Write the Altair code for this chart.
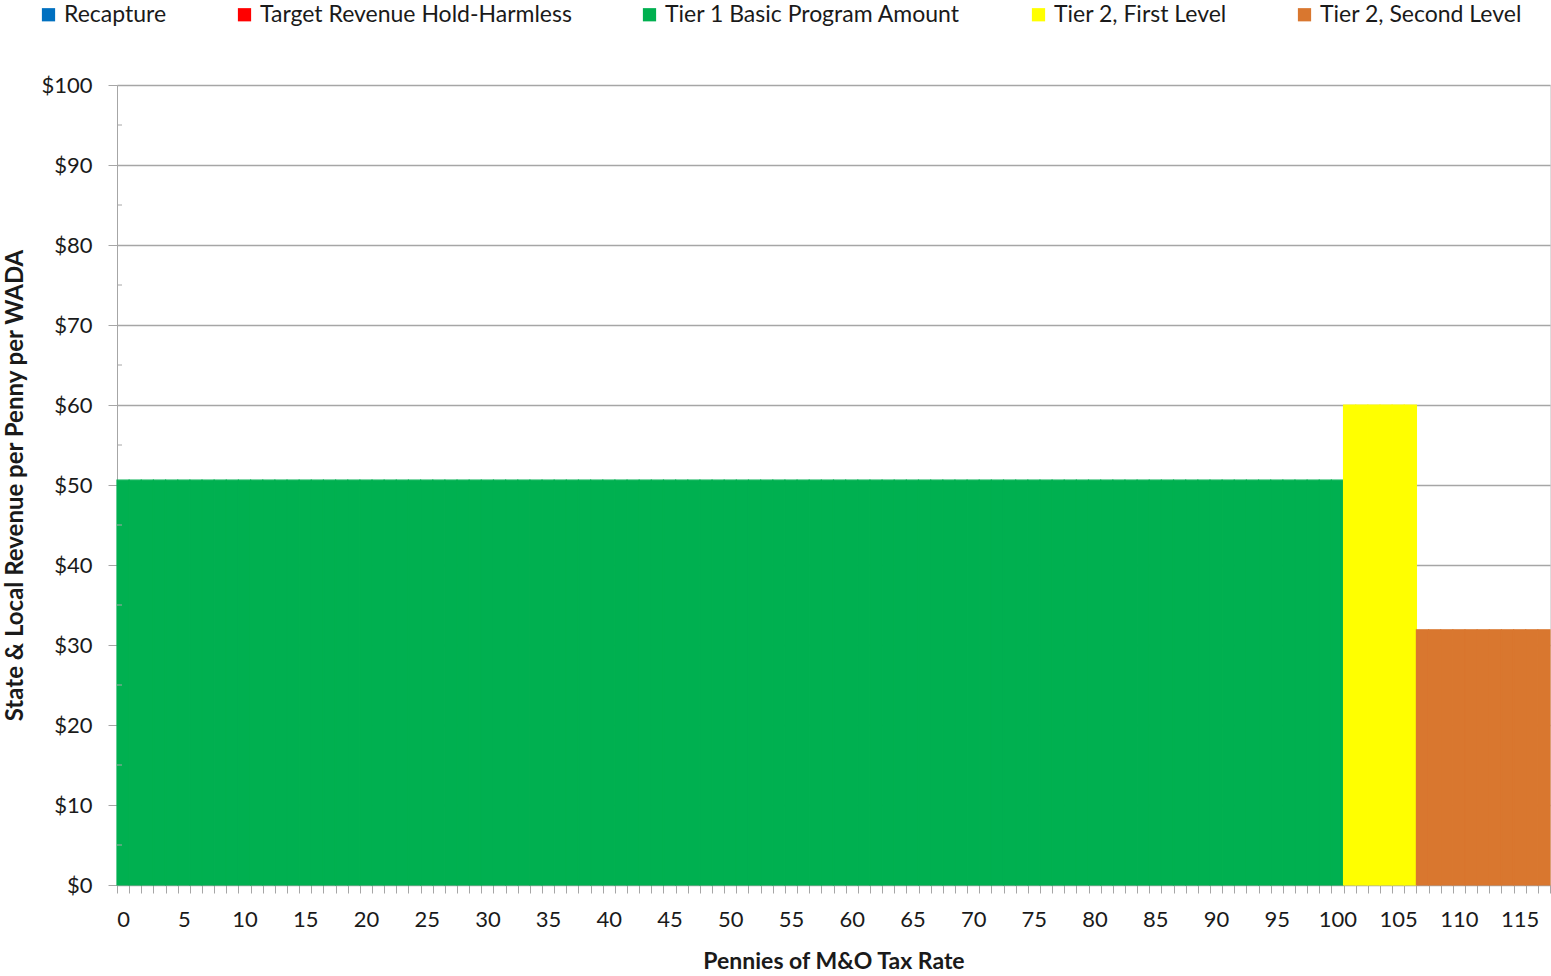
import altair as alt
import pandas as pd

# Legend series (first two have no bars in this chart)
series_names = ["Recapture", "Target Revenue Hold-Harmless", "Tier 1 Basic Program Amount",
                "Tier 2, First Level", "Tier 2, Second Level"]
series_colors = ["#0070C0", "#FF0000", "#00B050", "#FFFF00", "#D9772F"]

# Segments of pennies (inclusive ranges) and revenue per penny per WADA
segment_series = ["Tier 1 Basic Program Amount", "Tier 2, First Level", "Tier 2, Second Level"]
segment_start = [0, 101, 107]
segment_end = [100, 106, 117]
segment_value = [50.6, 60.0, 31.9]

minor_ticks = [5, 15, 25, 35, 45, 55, 65, 75, 85, 95]

rows = []
for s, a, b, v in zip(segment_series, segment_start, segment_end, segment_value):
    for p in range(a, b + 1):
        rows.append({"penny": p, "series": s, "value": v})
df = pd.DataFrame(rows)
pennies = list(range(0, 118))

FONT = "Lato"
GRID = "#A6A6A6"
TXT = "#1A1A1A"

y_scale = alt.Scale(domain=[0, 100], nice=False)

bars = alt.Chart(df).mark_bar(strokeWidth=1.2).encode(
    x=alt.X("penny:O", sort=pennies,
            scale=alt.Scale(domain=pennies, paddingInner=0, paddingOuter=0),
            axis=alt.Axis(title="Pennies of M&O Tax Rate", labelAngle=0,
                          labelExpr="datum.value % 5 == 0 ? datum.label : ''",
                          tickBand="extent", tickSize=8, tickColor=GRID, domainColor=GRID,
                          labelFontSize=22, labelColor=TXT, labelPadding=16,
                          titleFontSize=23, titleFontWeight="bold", titlePadding=20,
                          titleColor=TXT, grid=False)),
    y=alt.Y("value:Q", scale=y_scale,
            axis=alt.Axis(title="State & Local Revenue per Penny per WADA",
                          values=list(range(0, 101, 10)), format="$,.0f",
                          tickSize=9, tickColor=GRID, domainColor=GRID,
                          gridColor=GRID, gridWidth=1.3,
                          labelFontSize=22, labelColor=TXT, labelPadding=16,
                          titleFontSize=24, titleFontWeight="bold", titlePadding=13,
                          titleColor=TXT)),
    color=alt.Color("series:N",
                    scale=alt.Scale(domain=series_names, range=series_colors),
                    legend=alt.Legend(title=None, orient="none", legendX=-80, legendY=-82,
                                      direction="horizontal", columns=5, columnPadding=66,
                                      symbolType="square", symbolSize=175,
                                      symbolStrokeWidth=0, labelFontSize=23, labelLimit=0,
                                      labelColor=TXT, labelOffset=4)),
    stroke=alt.Color("series:N", scale=alt.Scale(domain=series_names, range=series_colors),
                     legend=None),
)

minor = alt.Chart(pd.DataFrame({"v": minor_ticks})).mark_rule(color=GRID, strokeWidth=1).encode(
    y=alt.Y("v:Q", scale=y_scale),
    x=alt.value(0), x2=alt.value(5),
)

chart = alt.layer(bars, minor).properties(
    width=1433, height=800,
    autosize=alt.AutoSizeParams(type="none"),
    padding={"left": 117, "top": 85, "right": 1, "bottom": 91},
).configure_view(stroke=None).configure(font=FONT)

chart.save("out.html", embed_options={"renderer": "svg", "actions": False})
